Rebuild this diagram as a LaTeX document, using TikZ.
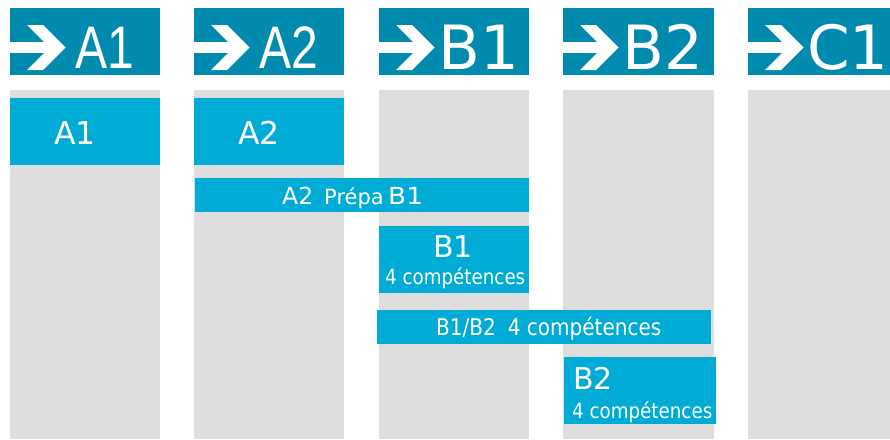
\documentclass[tikz,border=0pt]{standalone}
\usepackage{fontspec}
\setmainfont{DejaVu Sans}
\newfontfamily\hfA{Liberation Sans}[FakeStretch=0.8]
\newfontfamily\hfB{DejaVu Sans}
\newfontfamily\bxf{DejaVu Sans}[FakeStretch=0.87]
\newfontfamily\bxn{DejaVu Sans}
\newfontfamily\bxw{DejaVu Sans}[FakeStretch=1.12]
\definecolor{hdr}{HTML}{008AAD}
\definecolor{bx}{HTML}{00ABD5}
\definecolor{colg}{HTML}{DEDEDE}
\begin{document}
\begin{tikzpicture}[x=1pt,y=-1pt,
  colbox/.style={fill=colg, draw=none, inner sep=0, anchor=north west},
  hdrbox/.style={fill=hdr, draw=none, inner sep=0, anchor=north west, minimum height=67},
  bluebox/.style={fill=bx, draw=none, inner sep=0, anchor=north west},
  txt/.style={text=white, inner sep=0, anchor=base west}]
\fill[white] (0,0) rectangle (890,439);
\path[use as bounding box] (0,0) rectangle (890,439);
% columns and headers
\foreach \n/\x/\w in {A1/10/150, A2/194/150, B1/379/150, B2/563/151, C1/748/142} {
  \node[colbox, minimum width=\w, minimum height=349] (c\n) at (\x,90) {};
  \node[hdrbox, minimum width=\w] (h\n) at (\x,8) {};
  \fill[white] (\x,42) rectangle (\x+44,53);
  \fill[white] (\x+17,25) -- (\x+33,25) -- (\x+55.5,47.5) -- (\x+33,70) -- (\x+17,70) -- (\x+39.5,47.5) -- cycle;
}
\foreach \n/\x in {A1/10, A2/194} {
  \node[txt, font=\hfA\fontsize{60}{60}\selectfont] (t\n) at (\x+65,68) {\n};
}
\foreach \n/\x in {B1/379, B2/563, C1/748} {
  \node[txt, font=\hfB\fontsize{61}{61}\selectfont] (t\n) at (\x+59,69.5) {\n};
}
% blue boxes
\node[bluebox, minimum width=150, minimum height=67] (bA1) at (10,98) {};
\node[bluebox, minimum width=150, minimum height=67] (bA2) at (194,98) {};
\node[bluebox, minimum width=334, minimum height=34] (bA2B1) at (195,178) {};
\node[bluebox, minimum width=150, minimum height=67] (bB1) at (379,226) {};
\node[bluebox, minimum width=334, minimum height=34] (bB1B2) at (377,310) {};
\node[bluebox, minimum width=152, minimum height=67] (bB2) at (564,357) {};
% texts
\node[txt, font=\bxn\fontsize{31.5}{31.5}\selectfont] (xA1) at (54,144.5) {A1};
\node[txt, font=\bxn\fontsize{31.5}{31.5}\selectfont] (xA2) at (238,144.5) {A2};
\node[txt, font=\bxn\fontsize{23.5}{23.5}\selectfont] (xA2a) at (282,204.5) {A2};
\node[txt, font=\bxn\fontsize{21}{21}\selectfont] (xA2b) at (324,204.5) {Prépa};
\node[txt, font=\bxw\fontsize{23.5}{23.5}\selectfont] (xA2c) at (388,204.5) {B1};
\node[txt, font=\bxn\fontsize{30}{30}\selectfont] (xB1) at (433,257) {B1};
\node[txt, font=\bxf\fontsize{21}{21}\selectfont] (xB1c) at (385,284.5) {4 compétences};
\node[txt, font=\bxf\fontsize{23}{23}\selectfont] (xB1B2) at (436,335) {B1/B2\hspace{12pt}4 compétences};
\node[txt, font=\bxn\fontsize{30}{30}\selectfont] (xB2) at (573,389) {B2};
\node[txt, font=\bxf\fontsize{21}{21}\selectfont] (xB2c) at (572,418) {4 compétences};
\end{tikzpicture}
\end{document}
